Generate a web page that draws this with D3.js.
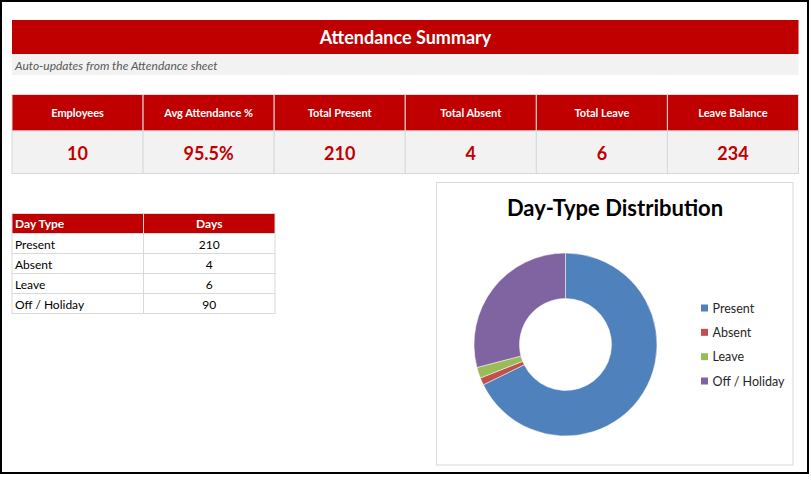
<!DOCTYPE html>
<html><head><meta charset="utf-8">
<script src="https://cdn.jsdelivr.net/npm/d3@7"></script>
<style>
html,body{margin:0;padding:0;background:#fff;}
svg{display:block;font-family:Lato,"Open Sans",sans-serif;}
</style></head>
<body><svg id="c" width="811" height="481"></svg>
<script>
const title = "Attendance Summary";
const subtitle = "Auto-updates from the Attendance sheet";
const kpiLabels = ["Employees","Avg Attendance %","Total Present","Total Absent","Total Leave","Leave Balance"];
const kpiValues = ["10","95.5%","210","4","6","234"];
const tableHeaders = ["Day Type","Days"];
const dayTypes = ["Present","Absent","Leave","Off / Holiday"];
const dayValues = [210,4,6,90];
const sliceColors = ["#4F81BD","#C0504D","#9BBB59","#8064A2"];
const chartTitle = "Day-Type Distribution";

const RED = "#C00000", GRID = "#D9D9D9", LIGHT = "#F2F2F2";
const svg = d3.select("#c");

// outer frame
svg.append("rect").attr("x",1).attr("y",1).attr("width",807).attr("height",472)
  .attr("fill","#fff").attr("stroke","#000").attr("stroke-width",2);

// title bar
svg.append("rect").attr("x",12).attr("y",20).attr("width",786.5).attr("height",34).attr("fill",RED);
svg.append("text").attr("x",405.5).attr("y",43.5).attr("text-anchor","middle")
  .attr("fill","#fff").attr("font-weight","bold").attr("font-size",18).text(title);
svg.append("rect").attr("x",12).attr("y",54).attr("width",786.5).attr("height",21).attr("fill",LIGHT);
svg.append("text").attr("x",15).attr("y",70).attr("fill","#595959").attr("font-style","italic")
  .attr("font-size",12).text(subtitle);

// KPI table
const kx = d3.scaleBand().domain(kpiLabels).range([12,798.5]);
const kg = svg.append("g");
kg.selectAll("rect.h").data(kpiLabels).join("rect").attr("class","h")
  .attr("x",d=>kx(d)).attr("y",94.5).attr("width",kx.bandwidth()).attr("height",36.5)
  .attr("fill",RED).attr("stroke",GRID).attr("stroke-width",1);
kg.selectAll("rect.v").data(kpiLabels).join("rect").attr("class","v")
  .attr("x",d=>kx(d)).attr("y",131).attr("width",kx.bandwidth()).attr("height",42.5)
  .attr("fill",LIGHT).attr("stroke",GRID).attr("stroke-width",1);
kg.selectAll("text.h").data(kpiLabels).join("text").attr("class","h")
  .attr("x",d=>kx(d)+kx.bandwidth()/2).attr("y",117).attr("text-anchor","middle")
  .attr("fill","#fff").attr("font-weight","bold").attr("font-size",11).text(d=>d);
kg.selectAll("text.v").data(kpiValues).join("text").attr("class","v")
  .attr("x",(d,i)=>kx(kpiLabels[i])+kx.bandwidth()/2).attr("y",159.5).attr("text-anchor","middle")
  .attr("fill",RED).attr("font-weight","bold").attr("font-size",18).text(d=>d);

// Day type table
const tx = d3.scaleOrdinal().domain(tableHeaders).range([12,143.5]);
const tw = 131.5;
const ty = d3.scaleBand().domain(["__h"].concat(dayTypes)).range([213.5,313.5]);
const tg = svg.append("g");
tg.selectAll("rect.h").data(tableHeaders).join("rect").attr("class","h")
  .attr("x",d=>tx(d)).attr("y",ty("__h")).attr("width",tw).attr("height",ty.bandwidth())
  .attr("fill",RED).attr("stroke",GRID);
tg.append("text").attr("x",tx("Day Type")+3).attr("y",ty("__h")+14).attr("fill","#fff")
  .attr("font-weight","bold").attr("font-size",12).text(tableHeaders[0]);
tg.append("text").attr("x",tx("Days")+tw/2).attr("y",ty("__h")+14).attr("fill","#fff")
  .attr("text-anchor","middle").attr("font-weight","bold").attr("font-size",12).text(tableHeaders[1]);
dayTypes.forEach((t,i)=>{
  tableHeaders.forEach(h=>{
    tg.append("rect").attr("x",tx(h)).attr("y",ty(t)).attr("width",tw).attr("height",ty.bandwidth())
      .attr("fill","#fff").attr("stroke",GRID);
  });
  tg.append("text").attr("x",tx("Day Type")+3).attr("y",ty(t)+15).attr("fill","#000")
    .attr("font-size",12).text(t);
  tg.append("text").attr("x",tx("Days")+tw/2).attr("y",ty(t)+15).attr("fill","#000")
    .attr("text-anchor","middle").attr("font-size",12).text(dayValues[i]);
});

// chart box
svg.append("rect").attr("x",436.5).attr("y",182.5).attr("width",356.5).attr("height",282.5)
  .attr("fill","#fff").attr("stroke",GRID);
svg.append("text").attr("x",615).attr("y",215.5).attr("text-anchor","middle").attr("fill","#000")
  .attr("font-weight","bold").attr("font-size",22).text(chartTitle);

const pie = d3.pie().sort(null).value(d=>d)(dayValues);
const arc = d3.arc().innerRadius(46).outerRadius(91.5);
const color = d3.scaleOrdinal().domain(dayTypes).range(sliceColors);
svg.append("g").attr("transform","translate(565.5,344.5)")
  .selectAll("path").data(pie).join("path").attr("d",arc)
  .attr("fill",(d,i)=>color(dayTypes[i])).attr("stroke","#fff").attr("stroke-width",0.5);

const ly = d3.scalePoint().domain(dayTypes).range([308,381]);
const lg = svg.append("g");
lg.selectAll("rect").data(dayTypes).join("rect")
  .attr("x",701).attr("y",d=>ly(d)-3.5).attr("width",7).attr("height",7).attr("fill",d=>color(d));
lg.selectAll("text").data(dayTypes).join("text")
  .attr("x",712.5).attr("y",d=>ly(d)+4.5).attr("fill","#262626").attr("font-size",12.5).text(d=>d);
</script></body></html>
